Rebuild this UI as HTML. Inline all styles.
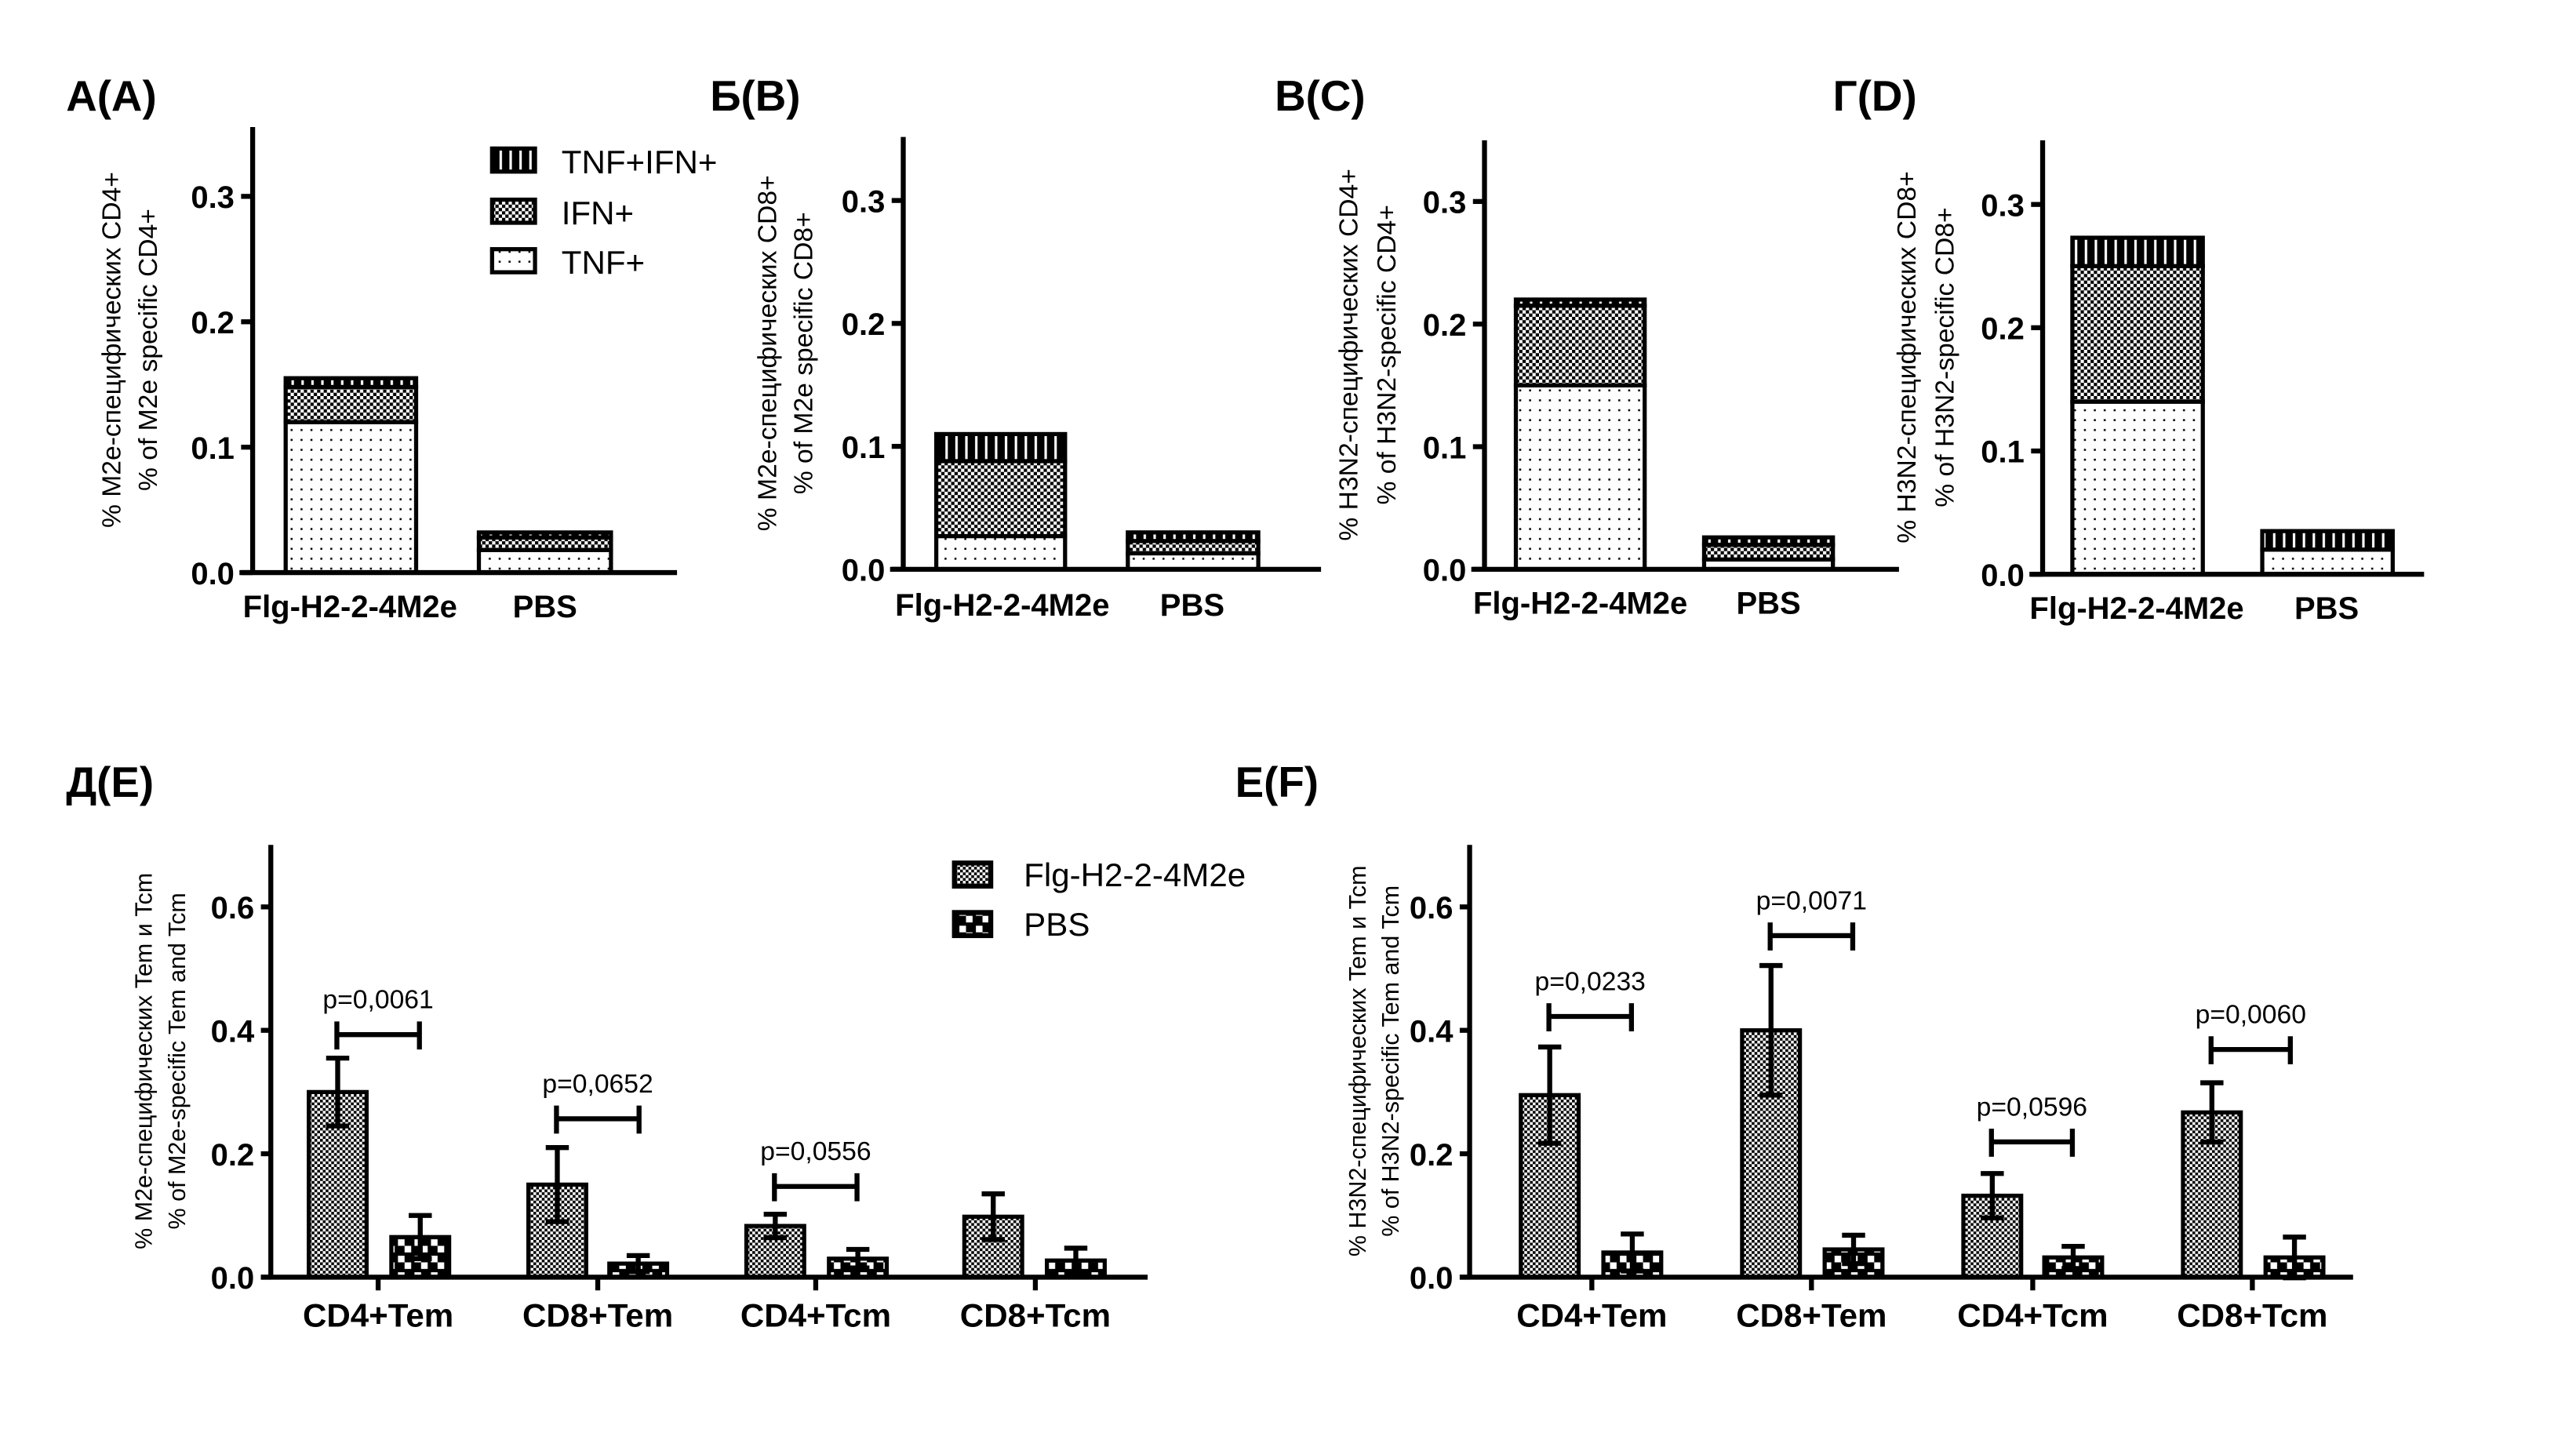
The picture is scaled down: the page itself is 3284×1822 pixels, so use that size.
<!DOCTYPE html>
<html><head><meta charset="utf-8"><style>
html,body{margin:0;padding:0;background:#fff;}
svg{display:block;}
.t{font-family:"Liberation Sans Narrow","Liberation Sans",sans-serif;font-weight:bold;fill:#000;}
.r{font-family:"Liberation Sans","DejaVu Sans",sans-serif;fill:#000;}
</style></head><body>
<svg id="s" width="3284" height="1822" viewBox="0 0 1560 866" preserveAspectRatio="none" xmlns="http://www.w3.org/2000/svg">
<defs>
<pattern id="dots" width="6" height="6" patternUnits="userSpaceOnUse"><rect width="6" height="6" fill="#fff"/><rect x="2" y="2" width="1.2" height="1.2" fill="#000"/></pattern>
<pattern id="chk" width="4" height="4" patternUnits="userSpaceOnUse"><rect width="4" height="4" fill="#fff"/><rect width="2" height="2" fill="#000"/><rect x="2" y="2" width="2" height="2" fill="#000"/></pattern>
<pattern id="str" width="6" height="6" patternUnits="userSpaceOnUse"><rect width="6" height="6" fill="#000"/><rect x="2.5" y="0" width="1.5" height="6" fill="#fff"/></pattern>
<pattern id="chk2" width="3.4" height="3.4" patternUnits="userSpaceOnUse"><rect width="3.4" height="3.4" fill="#fff"/><rect width="1.7" height="1.7" fill="#000"/><rect x="1.7" y="1.7" width="1.7" height="1.7" fill="#000"/></pattern>
<pattern id="chk3" width="10" height="10" patternUnits="userSpaceOnUse"><rect width="10" height="10" fill="#000"/><rect x="1" y="1" width="4" height="4" fill="#fff"/><rect x="5" y="5" width="4" height="4" fill="#fff"/></pattern>
</defs>
<g id="g"></g>
</svg>
<script>
var g=document.getElementById('g'),h='';
function L(x1,y1,x2,y2,w){h+='<line x1="'+x1+'" y1="'+y1+'" x2="'+x2+'" y2="'+y2+'" stroke="#000" stroke-width="'+(w||2.5)+'"/>';}
function T(x,y,s,cls,sz,anc,extra){h+='<text x="'+x+'" y="'+y+'" class="'+cls+'" font-size="'+sz+'" text-anchor="'+(anc||'start')+'" '+(extra||'')+'>'+s+'</text>';}
function R(x,y,w,hh,f,sw){h+='<rect x="'+x+'" y="'+y+'" width="'+w+'" height="'+hh+'" fill="'+f+'" stroke="#000" stroke-width="'+(sw||2.5)+'"/>';}
var P=[
 {t:'A(A)',tx:40,ax:153,top:77,base:347,per:76,xe:410,b:[[173,252,.12,.148,.155],[290,370,.018,.028,.032]],lab:[212,330],ly:368,yl:['% M2e-специфических CD4+','% of M2e specific CD4+'],ylx:[73,95]},
 {t:'Б(B)',tx:430,ax:547,top:83,base:345,per:74.5,xe:800,b:[[567,645,.027,.088,.11],[683,762,.013,.023,.03]],lab:[607,722],ly:367,yl:['% M2e-специфических CD8+','% of M2e specific CD8+'],ylx:[470,492]},
 {t:'В(C)',tx:772,ax:899,top:85,base:345,per:74.3,xe:1150,b:[[918,996,.15,.215,.22],[1032,1110,.008,.02,.026]],lab:[957,1071],ly:366,yl:['% H3N2-специфических CD4+','% of H3N2-specific CD4+'],ylx:[822,845]},
 {t:'Г(D)',tx:1110,ax:1237,top:85,base:348,per:74.7,xe:1468,b:[[1255,1334,.14,.25,.273],[1370,1449,.02,.02,.035]],lab:[1294,1409],ly:369,yl:['% H3N2-специфических CD8+','% of H3N2-specific CD8+'],ylx:[1160,1183]}
];
P.forEach(function(p){
 T(p.tx,67,p.t,'t',26,'start','style="font-family:Liberation Sans;font-weight:bold"');
 var cy=(p.top+p.base)/2;
 p.yl.forEach(function(s,i){T(p.ylx[i],cy,s,'r',16,'middle','transform="rotate(-90 '+p.ylx[i]+' '+cy+')"');});
 p.b.forEach(function(b){
  function Y(v){return p.base-v*p.per*10;}
  var w=b[1]-b[0];
  R(b[0],Y(b[2]),w,p.base-Y(b[2]),'url(#dots)');
  if(b[3]>b[2])R(b[0],Y(b[3]),w,Y(b[2])-Y(b[3]),'url(#chk)');
  R(b[0],Y(b[4]),w,Y(b[3])-Y(b[4]),'url(#str)');
 });
 L(p.ax,p.top,p.ax,p.base+1,3);L(p.ax-8,p.base,p.xe,p.base,3);
 for(var i=0;i<4;i++){var y=p.base-i*p.per;L(p.ax-7,y,p.ax,y,3);T(p.ax-11,y+7,(i/10).toFixed(1),'t',19,'end');}
 T(p.lab[0],p.ly+6,'Flg-H2-2-4M2e','t',19,'middle');T(p.lab[1],p.ly+6,'PBS','t',19,'middle');
});
[['url(#str)','TNF+IFN+',97],['url(#chk)','IFN+',128],['url(#dots)','TNF+',158]].forEach(function(l){R(298,l[2]-7,26,14,l[0],2.5);T(340,l[2]+8,l[1],'r',20);});
var Q=[
 {t:'Д(E)',tx:40,ax:164,xe:695,fx:[187,320,452,584],px:[237,369,502,634],lab:[229,362,494,627],
  f:[[.30,.055],[.15,.06],[.083,.019],[.098,.037]],pb:[[.065,.035],[.022,.013],[.03,.015],[.027,.02]],
  br:[[204,254,627,'p=0,0061',611],[337,387,678,'p=0,0652',662],[469,519,719,'p=0,0556',703]],
  yl:['% M2e-специфических Tem и Tcm','% of M2e-specific Tem and Tcm'],ylx:[92,112]},
 {t:'Е(F)',tx:748,ax:890,xe:1425,fx:[921,1055,1189,1322],px:[971,1105,1238,1372],lab:[964,1097,1231,1364],
  f:[[.295,.078],[.40,.105],[.132,.036],[.267,.048]],pb:[[.04,.03],[.045,.023],[.032,.018],[.032,.033]],
  br:[[938,988,616,'p=0,0233',600],[1072,1122,567,'p=0,0071',551],[1206,1255,692,'p=0,0596',676],[1339,1387,636,'p=0,0060',620]],
  yl:['% H3N2-специфических Tem и Tcm','% of H3N2-specific Tem and Tcm'],ylx:[827,847]}
];
Q.forEach(function(q){
 var base=774,per=374,top=512;
 function Y(v){return base-v*per;}
 T(q.tx,483,q.t,'t',26,'start','style="font-family:Liberation Sans;font-weight:bold"');
 var cy=(top+base)/2;
 q.yl.forEach(function(s,i){T(q.ylx[i],cy,s,'r',14.5,'middle','transform="rotate(-90 '+q.ylx[i]+' '+cy+')"');});
 function bar(x,d,pat){var w=35;R(x,Y(d[0]),w,base-Y(d[0]),pat);var c=x+w/2;L(c,Y(d[0]-d[1]),c,Y(d[0]+d[1]),3);L(c-7,Y(d[0]+d[1]),c+7,Y(d[0]+d[1]),3);L(c-7,Y(d[0]-d[1]),c+7,Y(d[0]-d[1]),3);}
 for(var i=0;i<4;i++){bar(q.fx[i],q.f[i],'url(#chk2)');bar(q.px[i],q.pb[i],'url(#chk3)');}
 L(q.ax,top,q.ax,base+1,3);L(q.ax-6,base,q.xe,base,3);
 for(var i=0;i<4;i++){var y=base-i*.2*per;L(q.ax-6,y,q.ax,y,3);T(q.ax-10,y+7,(i*.2).toFixed(1),'t',19,'end');}
 q.lab.forEach(function(x,i){L(x,base,x,base+8,3);T(x,804,['CD4+Tem','CD8+Tem','CD4+Tcm','CD8+Tcm'][i],'t',20,'middle');});
 q.br.forEach(function(b){L(b[0],b[2],b[1],b[2],3);L(b[0],b[2]-8,b[0],b[2]+9,3);L(b[1],b[2]-8,b[1],b[2]+9,3);T((b[0]+b[1])/2,b[4],b[3],'r',16,'middle');});
});
R(578,523,22,14,'url(#chk2)',3);T(620,537,'Flg-H2-2-4M2e','r',20);
R(578,553,22,14,'url(#chk3)',3);T(620,567,'PBS','r',20);
g.innerHTML=h;
</script>
</body></html>
